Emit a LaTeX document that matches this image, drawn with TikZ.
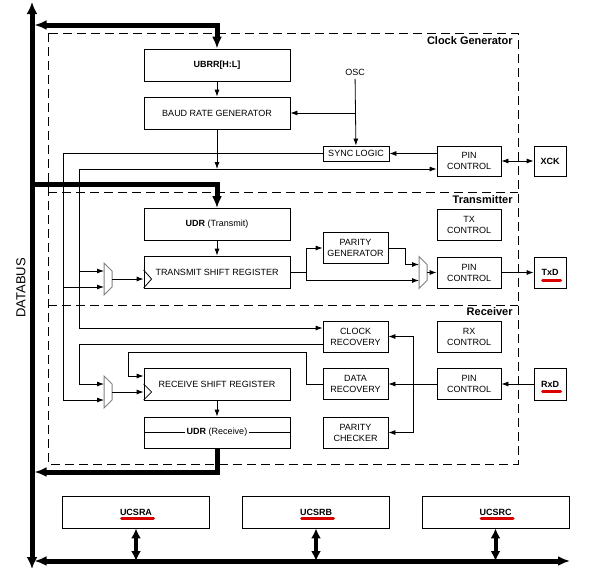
\documentclass[tikz,border=0pt]{standalone}
\usepackage{fontspec}
\setmainfont{Liberation Sans}
\usetikzlibrary{arrows.meta}

\begin{document}
\begin{tikzpicture}[x=1pt, y=-1pt, line width=0.8pt, font=\fontsize{9}{11}\selectfont]
    \tikzstyle{block} = [draw, rectangle, align=center, inner sep=0pt, minimum width=146pt, minimum height=32pt]
    \tikzstyle{unit} = [block, minimum width=65pt, minimum height=31pt]
    \tikzstyle{padbox} = [block, minimum width=32pt, minimum height=31pt, font=\fontsize{9}{11}\selectfont\bfseries]
    \tikzstyle{region} = [draw, dash pattern=on 9pt off 5pt]
    \tikzstyle{regionname} = [anchor=east, inner sep=1pt, font=\fontsize{11}{13}\selectfont\bfseries]
    \tikzstyle{wire} = [-{Latex[length=7pt,width=5pt]}]
    \tikzstyle{bus} = [line width=5pt]
    \tikzstyle{regbus} = [line width=4pt, {Latex[length=10pt,width=10pt]}-{Latex[length=10pt,width=10pt]}]
    \tikzstyle{muxline} = [draw=gray, line width=1pt]
    \tikzstyle{redmark} = [draw=red!85!black, line width=3pt, line cap=round]

    \useasboundingbox (0,0) rectangle (591,570);

    % Frames of the three sections
    \draw[region] (48,33) rectangle (518,464);
    \draw[region] (48,192) -- (518,192);
    \draw[region] (48,305) -- (518,305);
    \node[regionname] (cgname) at (514,41) {Clock Generator};
    \node[regionname] (txname) at (514,200) {Transmitter};
    \node[regionname] (rxname) at (514,312) {Receiver};

    % Clock generator
    \node[block, font=\fontsize{9}{11}\selectfont\bfseries] (ubrr) at (217,65) {UBRR[H:L]};
    \node[block] (brg) at (217,113) {BAUD RATE GENERATOR};
    \node (osc) at (355,72) {OSC};
    \node[block, minimum width=66pt, minimum height=15pt] (sync) at (356,153.5) {SYNC LOGIC};
    \node[unit, minimum width=64pt, minimum height=30pt] (pinclk) at (469,161) {PIN\\CONTROL};
    \node[padbox, minimum height=30pt] (xck) at (550,161) {XCK};

    % Transmitter
    \node[block] (udrtx) at (217,224.5) {\textbf{UDR} (Transmit)};
    \node[block] (tsr) at (217,272) {TRANSMIT SHIFT REGISTER};
    \node[unit] (pgen) at (355.5,248) {PARITY\\GENERATOR};
    \node[unit, minimum width=64pt] (txctl) at (469,224.5) {TX\\CONTROL};
    \node[unit, minimum width=64pt] (pintx) at (469,272.5) {PIN\\CONTROL};
    \node[padbox] (txd) at (550,272.5) {TxD};

    % Receiver
    \node[unit] (clkrec) at (355.5,336.5) {CLOCK\\RECOVERY};
    \node[unit, minimum width=64pt] (rxctl) at (469,336.5) {RX\\CONTROL};
    \node[unit] (datarec) at (355.5,384) {DATA\\RECOVERY};
    \node[unit, minimum width=64pt] (pinrx) at (469,384) {PIN\\CONTROL};
    \node[padbox, minimum height=32pt] (rxd) at (550,384) {RxD};
    \node[block] (rsr) at (217,384) {RECEIVE SHIFT REGISTER};
    \node[block, minimum height=31pt] (udrrx) at (217,432.5) {};
    \draw (udrrx.west) -- (udrrx.east);
    \node[fill=white, inner sep=2pt] (udrrxname) at (udrrx) {\textbf{UDR} (Receive)};
    \node[unit] (parchk) at (355.5,432.5) {PARITY\\CHECKER};

    % Multiplexers (gray trapezoids)
    \foreach \m/\x/\y in {txmux/104/279, rxmux/104/392, outmux/419/272.5} {
        \draw[muxline] (\x,\y-16) -- (\x+8,\y-8) -- (\x+8,\y+8) -- (\x,\y+16) -- cycle;
        \coordinate (\m) at (\x+8,\y);
        \coordinate (\m-a) at (\x,\y-8);
        \coordinate (\m-b) at (\x,\y+8);
    }

    % Clock inputs of the shift registers
    \draw (tsr.west |- txmux) ++(0,-9) -- ++(8,9) -- ++(-8,9);
    \draw (rsr.west |- rxmux) ++(0,-8) -- ++(8,8) -- ++(-8,8);

    % Data bus
    \coordinate (dbN) at (32,2);
    \coordinate (dbS) at (32,569);
    \coordinate (dbE) at (34.5,0);
    \node[rotate=90, font=\fontsize{13}{15}\selectfont] (dblabel) at (21,288) {DATABUS};
    \draw[bus, {Latex[length=12pt,width=11pt]}-{Latex[length=12pt,width=11pt]}] (dbS) -- (dbN);
    \draw[bus, {Latex[length=12pt,width=10pt]}-{Latex[length=12pt,width=10pt]}] (dbE |- 0,25) -| (ubrr.north);
    \draw[bus, -{Latex[length=12pt,width=10pt]}] (dbN |- 0,184) -| (udrtx.north);
    \draw[bus, -{Latex[length=12pt,width=10pt]}] (udrrx.south) |- (dbE |- 0,472);
    \draw[bus, {Latex[length=12pt,width=10pt]}-{Latex[length=12pt,width=10pt]}] (dbE |- 0,561) -- (570,561);

    % Control and status registers
    \foreach \reg/\x in {UCSRA/136, UCSRB/316, UCSRC/495.5} {
        \node[block, minimum width=147pt, font=\fontsize{9}{11}\selectfont\bfseries] (\reg) at (\x,512) {\reg};
        \draw[redmark] ([shift={(-14.5,6.5)}]\reg.center) -- ([shift={(17.5,6.5)}]\reg.center);
        \draw[regbus] (\reg.south) -- (\reg.south |- 0,561);
    }
    \draw[redmark] ([shift={(-7.5,7.5)}]txd.center) -- ([shift={(10.5,7.5)}]txd.center);
    \draw[redmark] ([shift={(-7.5,7)}]rxd.center) -- ([shift={(10.5,7)}]rxd.center);

    % Clock paths
    \coordinate (clkA) at (79,169);
    \coordinate (clkB) at (63,153.5);
    \draw[wire] (ubrr) -- (brg);
    \draw[wire] (osc) -- (sync);
    \draw[wire] (osc |- brg) -- (brg);
    \draw[wire] (pinclk.west |- sync) -- (sync);
    \draw[wire] (brg) -- (brg |- clkA);
    \draw[wire] (clkA) -- (pinclk.west |- clkA);
    \draw[wire] (clkA) |- (clkrec.west |- 0,328);
    \draw[wire] (clkA |- txmux-a) -- (txmux-a);
    \draw[wire] (sync.west) -| (clkB |- rxmux-b) -- (rxmux-b);
    \draw[wire] (clkB |- txmux-b) -- (txmux-b);
    \draw[wire, {Latex[length=7pt,width=5pt]}-{Latex[length=7pt,width=5pt]}] (pinclk) -- (xck);

    % Transmit path
    \draw[wire] (udrtx) -- (tsr);
    \draw[wire] (txmux) -- (tsr.west |- txmux);
    \draw[wire] (tsr.east) -- ++(16,0) |- (pgen.west);
    \draw[wire] (tsr.east) ++(16,0) |- (outmux-b);
    \draw[wire] (pgen.east) -- ++(17,0) |- (outmux-a);
    \draw[wire] (outmux) -- (pintx.west |- outmux);
    \draw[wire] (pintx) -- (txd);

    % Receive path
    \coordinate (rxsplit) at (413,384);
    \draw[wire] (rxd) -- (pinrx);
    \draw[wire] (pinrx) -- (datarec);
    \draw[wire] (rxsplit) |- (clkrec.east);
    \draw[wire] (rxsplit) |- (parchk.east);
    \draw[wire] (clkrec.west |- 0,344) -| (clkA |- rxmux-a) -- (rxmux-a);
    \draw[wire] (datarec.west) -| (306,352) -| (128,376) -- (rsr.west |- 0,376);
    \draw[wire] (rxmux) -- (rsr.west |- rxmux);
    \draw[wire] (rsr) -- (udrrx);
\end{tikzpicture}
\end{document}
